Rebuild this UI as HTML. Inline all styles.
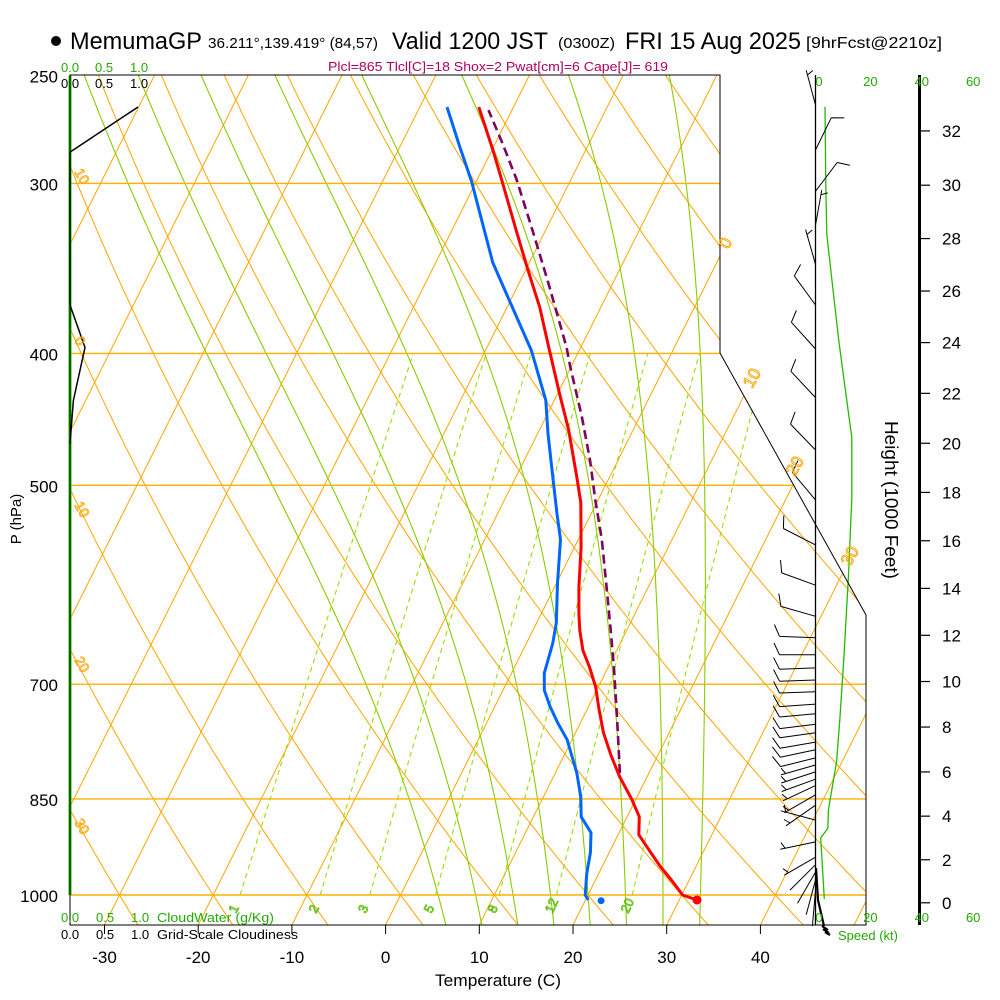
<!DOCTYPE html>
<html><head><meta charset="utf-8">
<style>
html,body{margin:0;padding:0;background:#fff}
svg{display:block}
text{font-family:"Liberation Sans",Arial,sans-serif}
</style></head>
<body>
<svg id="chart" width="1000" height="1000" viewBox="0 0 1000 1000" xmlns="http://www.w3.org/2000/svg">
<defs><clipPath id="plotclip"><path d="M70,75 L720,75 L720,353 L866,615 L866,925 L70,925 Z"/></clipPath></defs>
<rect width="1000" height="1000" fill="#fff"/>
<g id="grid" clip-path="url(#plotclip)"></g>
<g id="cloud"></g>
<g id="series"></g>
<g id="wind"></g>
<g id="axes"></g>

<g>
<circle cx="56" cy="41" r="5" fill="#000"/>
<text x="70" y="49" font-size="24" textLength="132" lengthAdjust="spacingAndGlyphs">MemumaGP</text>
<text x="208" y="48" font-size="15" textLength="170" lengthAdjust="spacingAndGlyphs">36.211°,139.419° (84,57)</text>
<text x="392" y="49" font-size="24" textLength="156" lengthAdjust="spacingAndGlyphs">Valid 1200 JST</text>
<text x="558" y="48" font-size="15" textLength="57" lengthAdjust="spacingAndGlyphs">(0300Z)</text>
<text x="625" y="49" font-size="24" textLength="176" lengthAdjust="spacingAndGlyphs">FRI 15 Aug 2025</text>
<text x="806" y="48" font-size="16" textLength="136" lengthAdjust="spacingAndGlyphs">[9hrFcst@2210z]</text>
<text x="328" y="71" font-size="13" fill="#b00060" textLength="340" lengthAdjust="spacingAndGlyphs">Plcl=865 Tlcl[C]=18 Shox=2 Pwat[cm]=6 Cape[J]= 619</text>
</g>

<g font-size="13">
<text x="61" y="72" fill="#22aa00">0.0</text>
<text x="95" y="72" fill="#22aa00">0.5</text>
<text x="130" y="72" fill="#22aa00">1.0</text>
<text x="61" y="88" fill="#000">0.0</text>
<text x="95" y="88" fill="#000">0.5</text>
<text x="130" y="88" fill="#000">1.0</text>
<text x="61" y="922" fill="#22aa00">0.0</text>
<text x="96" y="922" fill="#22aa00">0.5</text>
<text x="131" y="922" fill="#22aa00">1.0</text>
<text x="157" y="922" fill="#22aa00" textLength="117" lengthAdjust="spacingAndGlyphs">CloudWater (g/Kg)</text>
<text x="61" y="939" fill="#000">0.0</text>
<text x="96" y="939" fill="#000">0.5</text>
<text x="131" y="939" fill="#000">1.0</text>
<text x="157" y="939" fill="#000" textLength="141" lengthAdjust="spacingAndGlyphs">Grid-Scale Cloudiness</text>
</g>

<text x="435" y="986" font-size="17" textLength="126" lengthAdjust="spacingAndGlyphs">Temperature (C)</text>
<text transform="translate(21,519) rotate(-90)" text-anchor="middle" font-size="15">P (hPa)</text>
<text transform="translate(885,500) rotate(90)" text-anchor="middle" font-size="18" textLength="158" lengthAdjust="spacingAndGlyphs">Height (1000 Feet)</text>
<text x="838" y="940" font-size="13" fill="#22aa00">Speed (kt)</text>

<g fill="none" stroke="#ffa500" stroke-width="0.9" font-size="17">
<text transform="translate(728,250) rotate(-60)">0</text>
<text transform="translate(752,389) rotate(-60)">10</text>
<text transform="translate(795,477) rotate(-60)">20</text>
<text transform="translate(850,567) rotate(-60)">30</text>
</g>
<g fill="none" stroke="#ffa500" stroke-width="0.8" font-size="14">
<text transform="translate(74,172) rotate(60)">10</text>
<text transform="translate(74,340) rotate(60)">0</text>
<text transform="translate(74,505) rotate(60)">10</text>
<text transform="translate(74,660) rotate(60)">20</text>
<text transform="translate(74,822) rotate(60)">30</text>
</g>
<g id="mrlabels" fill="none" stroke="#55bb00" stroke-width="0.8" font-size="13"></g>
</svg>

<script>
// ---- data ----
const tempP=[1008.5,1000,975,953,924,903,876,851,819,791,760,731,703,680,661,639,621,594,555,515,493,455,428,396,370,347,325,298,283.5,263.6];
const tempT=[31.9,30.1,28.1,26.2,23.9,22.2,21.3,19.6,17.1,15.1,13.0,11.3,9.7,8.0,6.4,5.0,4.0,2.6,0.7,-1.7,-3.5,-6.9,-9.8,-13.4,-16.5,-19.8,-23.1,-27.4,-29.9,-33.7];
const dewP=[1008.5,1000,963.5,931,900,876,847,813.5,791,769,747.5,727,707,687,672,653,631,590,548,524,490,458,433,398,367,343,321,299,282,263.6];
const dewT=[20.3,19.7,18.7,18.0,17.0,15.1,14.0,12.3,10.9,9.5,7.6,5.9,4.4,3.5,3.2,2.8,2.1,0.1,-1.9,-3.7,-6.3,-8.9,-10.9,-15.1,-19.9,-23.9,-27.1,-30.5,-33.6,-37.1];
const sfcTempP=1008.5, sfcTemp=31.9;
const sfcDewP=1009.7, sfcDew=21.7;
const parcelP=[813.5,740,680,639,590,548,512.5,479,445,409,396,355,326,298,280,265];
const parcelT=[16.9,13.6,10.6,8.3,5.3,2.5,-0.3,-3.0,-6.2,-10.1,-11.5,-16.9,-21.2,-25.8,-29.3,-32.5];
const windP=[262.7,283.5,304,322,344,368.5,397,431,471,512.5,553,592,624,647,666,681,695,709,724,736,749,760,772,782,793,802.5,812,822,831,844,859,881,914,938,950,962,975,992];
const windDir=[345,26,37,10,344,324,318,317,316,320,297,290,286,272,270,268,268,268,266,265,263,262,260,258,256,254,252,250,245,240,235,285,258,240,225,210,195,185];
const windSpd=[3,8,8,5,5,8,10,10,10,10,10,10,10,10,9,9,9,9,9,9,9,8,8,8,8,7,7,6,5,5,5,5,3,3,2,2,2,2];
const speedP=[1007,908,893,866,798,742,667,584,511,461,432,392,370,327,301,263.5];
const speedKt=[3.6,2.2,5.0,5.2,8.4,9.7,11.3,13.0,14.3,14.3,12.3,9.3,7.8,4.6,4.2,3.9];
const cloudP=[466,433,396,368.5,284.5,263.6];
const cloudFrac=[0,0.05,0.22,0,0,1.0];
const cloudWaterP=[1000,250];
const cloudWater=[0,0];
const pressureLevels=[250,300,400,500,700,850,1000];
const gridPressures=[300,400,500,700,850,1000];
const tempTicks=[-30,-20,-10,0,10,20,30,40];
const heightKft=[0,2,4,6,8,10,12,14,16,18,20,22,24,26,28,30,32];
const speedTicks=[0,20,40,60];
const mixRatios=[1,2,3,5,8,12,20];
const moistThetaW=[4,8,12,16,20,24,28,32];

// ---- scales ----
const NS='http://www.w3.org/2000/svg';
function yP(p){return 895-591*Math.log(1000/p);}
function xT(T,y){return 385.6+9.37*T+0.5*(925-y);}
function xSpd(k){return 815+2.57*k;}
function xCloud(f){return 70+68*f;}
function pFromFt(kft){const h=kft*304.8;return 1013.25*Math.pow(1-2.25577e-5*h,5.25588);}
function mk(tag,parent){const e=document.createElementNS(NS,tag);parent.appendChild(e);return e;}
function pathD(pts){return pts.map((q,i)=>(i?'L':'M')+q[0].toFixed(1)+','+q[1].toFixed(1)).join(' ');}

const grid=document.getElementById('grid');
const series=document.getElementById('series');
const wind=document.getElementById('wind');
const axes=document.getElementById('axes');
const cloud=document.getElementById('cloud');

for(let th=-30;th<=220;th+=10){
  const pts=[];
  for(let p=1060;p>=240;p-=10){const T=(th+273.15)*Math.pow(p/1000,0.286)-273.15;const y=yP(p);pts.push([xT(T,y),y]);}
  const el=mk('path',grid);
  
  
  el.setAttribute('d',pathD(pts));el.setAttribute('fill','none');el.setAttribute('stroke','#ffa500');el.setAttribute('stroke-width','1');
}
for(let T=-150;T<=60;T+=10){
  const el=mk('line',grid);
  
  
  el.setAttribute('x1',xT(T,930));el.setAttribute('y1',930);el.setAttribute('x2',xT(T,70));el.setAttribute('y2',70);
  el.setAttribute('stroke','#ffa500');el.setAttribute('stroke-width','1');
}
function moist(thw){
  const Rd=287,cp=1005,Lv=2.5e6,eps=0.622;
  function dTdp(T,p){const Tc=T-273.15;const es=6.112*Math.exp(17.67*Tc/(Tc+243.5));const rs=eps*es/(p-es);
    return (Rd*T+Lv*rs)/(p*(cp+Lv*Lv*rs*eps/(Rd*T*T)));}
  const up=[],dn=[];let T=thw+273.15;
  for(let p=1000;p>=240;p-=2){up.push([p,T]);const k1=dTdp(T,p);const k2=dTdp(T-2*k1,p-2);T-=2*(k1+k2)/2;}
  T=thw+273.15;
  for(let p=1000;p<=1060;p+=2){dn.push([p,T]);const k1=dTdp(T,p);T+=2*k1;}
  return dn.reverse().concat(up).map(a=>{const y=yP(a[0]);return [xT(a[1]-273.15,y),y];});
}
moistThetaW.forEach(t=>{
  const el=mk('path',grid);
  
  
  el.setAttribute('d',pathD(moist(t)));el.setAttribute('fill','none');el.setAttribute('stroke','#88cc00');el.setAttribute('stroke-width','1.1');
});
const mrl=document.getElementById('mrlabels');
mixRatios.forEach(w=>{
  const pts=[];
  for(let p=1000;p>=400;p-=10){const e=w*p/(622+w);const l=Math.log(e/6.112);const Td=243.5*l/(17.67-l);const y=yP(p);pts.push([xT(Td,y),y]);}
  const el=mk('path',grid);
  
  
  el.setAttribute('d',pathD(pts));el.setAttribute('fill','none');el.setAttribute('stroke','#99dd00');el.setAttribute('stroke-width','1.1');el.setAttribute('stroke-dasharray','5,4');
  const t=mk('text',mrl);
  
  
  t.setAttribute('transform','translate('+(pts[0][0]-4).toFixed(1)+',914) rotate(-65)');t.textContent=w;
});
gridPressures.forEach(p=>{
  const el=mk('line',grid);
  
  
  const y=yP(p);el.setAttribute('x1',70);el.setAttribute('x2',866);el.setAttribute('y1',y);el.setAttribute('y2',y);
  el.setAttribute('stroke','#ffb000');el.setAttribute('stroke-width','1.4');
});

{
  const cw=mk('path',cloud);
  
  
  cw.setAttribute('d',pathD(cloudWaterP.map((p,i)=>[xCloud(cloudWater[i]),Math.max(75,yP(p))])));
  cw.setAttribute('stroke','#22bb00');cw.setAttribute('stroke-width','3');cw.setAttribute('fill','none');
  const cl=mk('path',cloud);
  
  
  cl.setAttribute('d',pathD(cloudP.map((p,i)=>[xCloud(cloudFrac[i]),yP(p)])));
  cl.setAttribute('stroke','#000');cl.setAttribute('stroke-width','1.5');cl.setAttribute('fill','none');
}

{
  const f=mk('path',axes);
  
  
  f.setAttribute('d','M70,75 L720,75 L720,353 L866,615 L866,925 L70,925 Z');f.setAttribute('fill','none');f.setAttribute('stroke','#000');f.setAttribute('stroke-width','1');
  const w=mk('line',axes);
  
  
  w.setAttribute('x1',815.5);w.setAttribute('x2',815.5);w.setAttribute('y1',75);w.setAttribute('y2',925);w.setAttribute('stroke','#000');w.setAttribute('stroke-width','1.3');
  const h=mk('line',axes);
  
  
  h.setAttribute('x1',919.5);h.setAttribute('x2',919.5);h.setAttribute('y1',75);h.setAttribute('y2',925);h.setAttribute('stroke','#000');h.setAttribute('stroke-width','3');
}
function drawLine(P,T,color,width,name,dash){
  const pts=P.map((p,i)=>{const y=yP(p);return [xT(T[i],y),y];});
  const el=mk('path',series);
  
  
  el.setAttribute('d',pathD(pts));el.setAttribute('fill','none');el.setAttribute('stroke',color);el.setAttribute('stroke-width',width);
  el.setAttribute('stroke-linejoin','round');
  if(dash)el.setAttribute('stroke-dasharray',dash);
}
drawLine(parcelP,parcelT,'#800060','2.6','parcel-line','9,5');
drawLine(dewP,dewT,'#0066ff','3','dewpoint-line');
drawLine(tempP,tempT,'#ff0000','3','temperature-line');
{
  let y=yP(sfcTempP);const d1=mk('circle',series);
  
  
  d1.setAttribute('cx',xT(sfcTemp,y));d1.setAttribute('cy',y);d1.setAttribute('r','4.5');d1.setAttribute('fill','#ff0000');
  y=yP(sfcDewP);const d2=mk('circle',series);
  
  
  d2.setAttribute('cx',xT(sfcDew,y));d2.setAttribute('cy',y);d2.setAttribute('r','3.5');d2.setAttribute('fill','#0066ff');
}
{
  const el=mk('path',wind);
  
  
  el.setAttribute('d',pathD(speedP.map((p,i)=>[xSpd(speedKt[i]),yP(p)])));el.setAttribute('fill','none');el.setAttribute('stroke','#22bb00');el.setAttribute('stroke-width','1.3');
}
windP.forEach((p,i)=>{
  const y=yP(p);const d=windDir[i]*Math.PI/180;const sx=Math.sin(d),sy=-Math.cos(d);
  const L=36;const ex=815.5+L*sx,ey=y+L*sy;
  const px=-sy,py=sx;let bx=0.85*px+0.4*sx,by=0.85*py+0.4*sy;const n=Math.hypot(bx,by);bx/=n;by/=n;
  let dstr='M815.5,'+y.toFixed(1)+' L'+ex.toFixed(1)+','+ey.toFixed(1);
  const r=Math.round(windSpd[i]/5)*5;let full=Math.floor(r/10),half=(r%10)===5;let k=0;
  for(let f=0;f<full;f++){const ax=ex-k*5*sx,ay=ey-k*5*sy;dstr+=' M'+ax.toFixed(1)+','+ay.toFixed(1)+' l'+(13*bx).toFixed(1)+','+(13*by).toFixed(1);k++;}
  if(half){if(k===0)k=1;const ax=ex-k*5*sx,ay=ey-k*5*sy;dstr+=' M'+ax.toFixed(1)+','+ay.toFixed(1)+' l'+(7*bx).toFixed(1)+','+(7*by).toFixed(1);}
  const el=mk('path',wind);
  
  
  el.setAttribute('d',dstr);el.setAttribute('fill','none');el.setAttribute('stroke','#000');el.setAttribute('stroke-width','1');
});
{
  const el=mk('path',wind);
  
  
  el.setAttribute('d','M816,868 L818,900 L824,926 M822,926 l6,4 M823,929 l6,4 M825,932 l5,3');el.setAttribute('fill','none');el.setAttribute('stroke','#000');el.setAttribute('stroke-width','2.2');
}
pressureLevels.forEach(p=>{
  const t=mk('text',axes);
  
  
  t.setAttribute('x',58);t.setAttribute('y',(yP(p)+7).toFixed(1));t.setAttribute('text-anchor','end');t.setAttribute('font-size','17');t.textContent=p;
});
tempTicks.forEach(T=>{
  const x=xT(T,925);
  const l=mk('line',axes);
  
  
  l.setAttribute('x1',x);l.setAttribute('x2',x);l.setAttribute('y1',925);l.setAttribute('y2',934);l.setAttribute('stroke','#000');
  const t=mk('text',axes);
  
  
  t.setAttribute('x',x.toFixed(1));t.setAttribute('y',963);t.setAttribute('text-anchor','middle');t.setAttribute('font-size','17');t.textContent=T;
});
heightKft.forEach(h=>{
  const y=yP(pFromFt(h));
  const l=mk('line',axes);
  
  
  l.setAttribute('x1',919);l.setAttribute('x2',930);l.setAttribute('y1',y);l.setAttribute('y2',y);l.setAttribute('stroke','#000');l.setAttribute('stroke-width','1.2');
  const t=mk('text',axes);
  
  
  t.setAttribute('x',942);t.setAttribute('y',(y+6).toFixed(1));t.setAttribute('font-size','17');t.textContent=h;
});
speedTicks.forEach(s=>{
  [86,922].forEach(yy=>{
    const t=mk('text',axes);
    
    
    t.setAttribute('x',(xSpd(s)+4).toFixed(1));t.setAttribute('y',yy);t.setAttribute('text-anchor','middle');t.setAttribute('font-size','13');t.setAttribute('fill','#22aa00');t.textContent=s;
  });
});
</script>
</body></html>
